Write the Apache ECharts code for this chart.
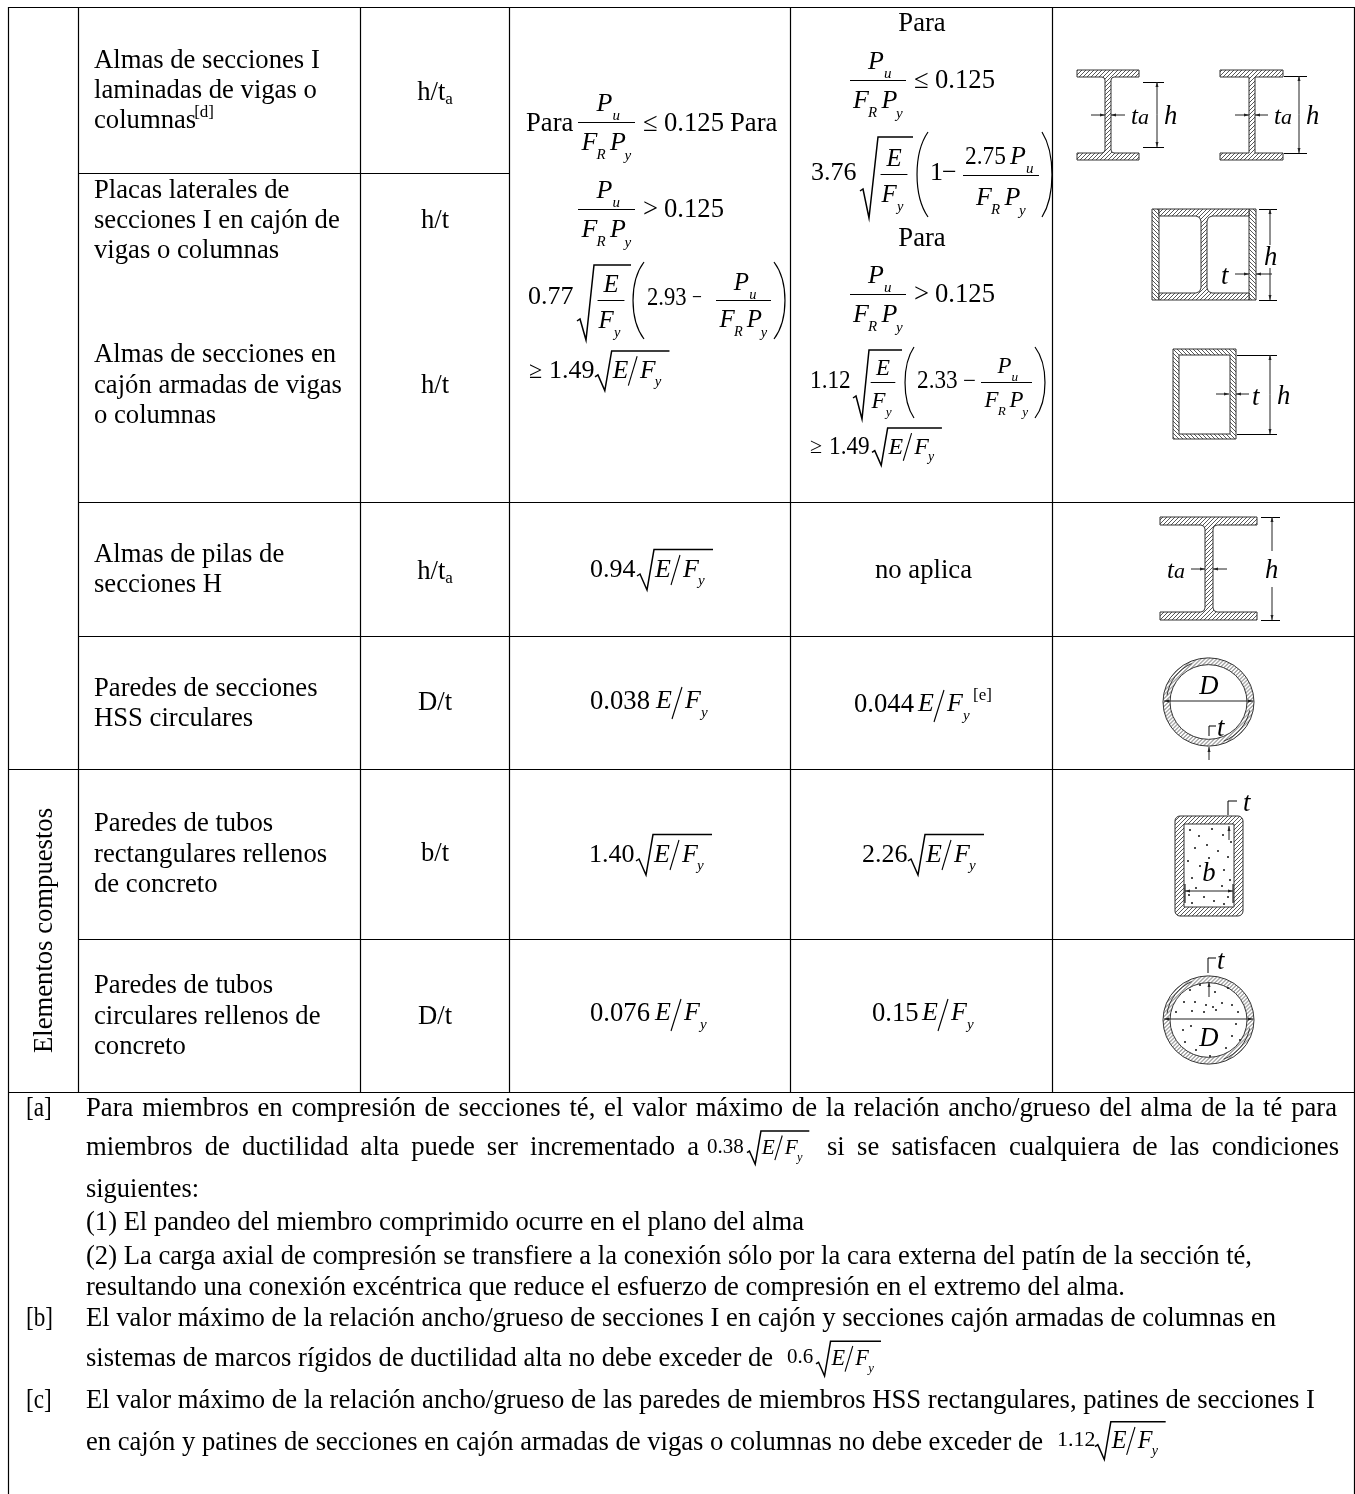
<!DOCTYPE html>
<html><head><meta charset="utf-8">
<style>html,body{margin:0;padding:0;background:#fff}#c{width:1355px;height:1494px}</style>
<script src="https://cdn.jsdelivr.net/npm/echarts@6/dist/echarts.min.js"></script>
</head><body><div id="c"></div>
<script>
// ---------- content ----------
const rowTitleLines = [
 ["Almas de secciones I","laminadas de vigas o","columnas"],
 ["Placas laterales de","secciones I en cajón de","vigas o columnas"],
 ["Almas de secciones en","cajón armadas de vigas","o columnas"],
 ["Almas de pilas de","secciones H"],
 ["Paredes de secciones","HSS circulares"],
 ["Paredes de tubos","rectangulares rellenos","de concreto"],
 ["Paredes de tubos","circulares rellenos de","concreto"]
];
const ratioLabels = [["h/t","a"],["h/t",""],["h/t",""],["h/t","a"],["D/t",""],["b/t",""],["D/t",""]];
const groupLabel = "Elementos compuestos";
const noteTags = ["[a]","[b]","[c]"];
const noteLines = [
 "Para miembros en compresión de secciones té, el valor máximo de la relación ancho/grueso del alma de la té para",
 "miembros de ductilidad alta puede ser incrementado a",
 "si se satisfacen cualquiera de las condiciones",
 "siguientes:",
 "(1) El pandeo del miembro comprimido ocurre en el plano del alma",
 "(2) La carga axial de compresión se transfiere a la conexión sólo por la cara externa del patín de la sección té,",
 "resultando una conexión excéntrica que reduce el esfuerzo de compresión en el extremo del alma.",
 "El valor máximo de la relación ancho/grueso de secciones I en cajón y secciones cajón armadas de columnas en",
 "sistemas de marcos rígidos de ductilidad alta no debe exceder de",
 "El valor máximo de la relación ancho/grueso de las paredes de miembros HSS rectangulares, patines de secciones I",
 "en cajón y patines de secciones en cajón armadas de vigas o columnas no debe exceder de"
];
const coefSqrt = ["0.94","1.40","2.26","0.38","0.6","1.12"];
const coefPlain = ["0.038","0.044","0.076","0.15"];
const limit125 = "0.125";

// ---------- layout ----------
const SERIF = '"Liberation Serif","Times New Roman",serif';
const BODY = 26.67, DY = 1.5;
const vLines = [[8,7,1494],[78,7,1092],[360,7,1092],[509,7,1092],[790,7,1092],[1052,7,1092],[1354,7,1494]];
const hLines = [[7,8,1354],[173,78,509],[502,78,1354],[636,78,1354],[769,8,1354],[939,78,1354],[1092,8,1354]];
const rowTitleYs = [[59,89,119],[189,219,249],[353,384,414],[553,583],[687,717],[822,853,883],[984,1015,1045]];
const ratioYs = [91,219,384,570,701,852,1015];
const noteSpec = [ // x1,x2,y,justify
 [86,1337,1107,1],[86,699,1146,1],[827,1339,1146,1],[86,199,1188,0],[86,804,1221,0],[86,1252,1255,0],
 [86,1125,1286,0],[86,1276,1317,0],[86,773,1357,0],[86,1315,1399,0],[86,1043,1441,0]];
const noteTagYs = [1107,1317,1399];
const rectDots = [[1190,830],[1199,836],[1212,829],[1223,835],[1231,842],[1195,848],[1207,845],[1218,851],[1228,857],[1188,861],[1200,866],[1192,878],[1224,870],[1230,880],[1189,895],[1196,888],[1222,886],[1228,897],[1204,897],[1214,901],[1192,903],[1224,904],[1209,858]];
const circDots = [[1190,990],[1200,985],[1215,992],[1228,988],[1184,1002],[1195,1002],[1206,1005],[1213,1007],[1222,1003],[1232,1005],[1176,1012],[1192,1011],[1204,1012],[1216,1010],[1238,1012],[1183,1030],[1191,1026],[1236,1024],[1232,1036],[1185,1042],[1240,1040],[1196,1050],[1226,1048],[1210,1056]];

// ---------- helpers ----------
const els = [];
const mctx = document.createElement('canvas').getContext('2d');
function measure(s,size,it){ mctx.font=(it?'italic ':'')+size+'px "Liberation Serif"'; return mctx.measureText(s).width; }
function T(s,x,y,o){ o=o||{};
  const el={type:'text',x:x,y:o.rot!==undefined?y:y+DY,silent:true,style:{text:s,fill:o.fill||'#000',font:(o.it?'italic ':'')+(o.size||BODY)+'px '+SERIF,
    textAlign:o.align||'left',textVerticalAlign:'middle',align:o.align||'left',verticalAlign:'middle'}};
  if(o.rot!==undefined) el.rotation=o.rot;
  if(o.sx) el.scaleX=o.sx;
  els.push(el);
}
function L(x1,y1,x2,y2,w,c){ els.push({type:'line',silent:true,shape:{x1,y1,x2,y2},style:{stroke:c||'#000',lineWidth:w||1,fill:null}}); }
function PL(pts,w,c){ els.push({type:'polyline',silent:true,shape:{points:pts},style:{stroke:c||'#000',lineWidth:w||1,fill:null}}); }
function fit(s,x1,x2,y,size){ T(s,x1,y,{size,sx:(x2-x1)/measure(s,size)}); }
function just(s,x1,x2,y,size){ const ws=s.split(' ');
  const wd=ws.map(w=>measure(w,size)); const tot=wd.reduce((a,b)=>a+b,0);
  const gap=(x2-x1-tot)/(ws.length-1); let x=x1;
  ws.forEach((w,i)=>{T(w,x,y,{size}); x+=wd[i]+gap;}); }
function paren(x1,x2,y1,y2,left){ const a=left?x2:x1,b=left?x1:x2,h=y2-y1;
  els.push({type:'bezierCurve',silent:true,shape:{x1:a,y1:y1,x2:a,y2:y2,cpx1:b-(a-b)*.33,cpy1:y1+h*.25,cpx2:b-(a-b)*.33,cpy2:y1+h*.75},style:{stroke:'#000',lineWidth:1.2,fill:null}}); }
function Pu(cx,y,k){ k=k||1; T('P',cx-8*k,y,{it:1,size:26*k}); T('u',cx+8*k,y+12*k,{it:1,size:15*k}); }
function FP(cx,y,k){ k=k||1;
  T('F',cx-25*k,y,{it:1,size:26*k}); T('R',cx-10*k,y+12*k,{it:1,size:15*k});
  T('P',cx+3.5*k,y,{it:1,size:26*k}); T('y',cx+18*k,y+13*k,{it:1,size:15*k}); }
function fracP(x1,x2,y,k){ k=k||1; L(x1,y+.5,x2,y+.5,1); const c=(x1+x2)/2; Pu(c-2,y-19*k,k); FP(c,y+20*k,k); }
function EoverF(cx,y,k){ k=k||1; T('E',cx,y-17*k,{it:1,size:26*k,align:'center'}); L(cx-14*k,y+.5,cx+14*k,y+.5,1);
  T('F',cx-13*k,y+21*k,{it:1,size:26*k}); T('y',cx+3*k,y+33*k,{it:1,size:15*k}); }
function bigSqrt(x0,xT,xEnd,yTick,yBot,yTop){ PL([[x0,yTick],[x0+3,yTick-2],[x0+9,yBot],[xT,yTop],[xEnd,yTop]],1.5); }
// x0 = root start, yc = text centre, k = scale
function rootEF(x0,yc,k){ k=k||1;
  PL([[x0,yc+7*k],[x0+3*k,yc+5*k],[x0+10*k,yc+21*k],[x0+17*k,yc-19.5*k],[x0+76*k,yc-19.5*k]],1.5);
  T('E',x0+18*k,yc,{it:1,size:26*k}); L(x0+34*k,yc+16*k,x0+43*k,yc-14*k,1.1);
  T('F',x0+46*k,yc,{it:1,size:26*k}); T('y',x0+61*k,yc+11*k,{it:1,size:15*k}); }
// plain E/Fy; x = left of E, yc = text centre
function EF(x,yc){ T('E',x,yc,{it:1,size:26}); L(x+16,yc+19,x+26,yc-13,1.1);
  T('F',x+29,yc,{it:1,size:26}); T('y',x+45,yc+12,{it:1,size:15}); }
function pattern(dir,step,col){ const c=document.createElement('canvas'); c.width=c.height=step; const g=c.getContext('2d');
  g.fillStyle='#fff'; g.fillRect(0,0,step,step); g.strokeStyle=col||'#444'; g.lineWidth=.9; g.beginPath();
  if(dir>0){ g.moveTo(-1,step+1); g.lineTo(step+1,-1);} else { g.moveTo(-1,-1); g.lineTo(step+1,step+1);} g.stroke();
  return {image:c,repeat:'repeat'}; }
const H1=pattern(1,4), H2=pattern(-1,4);
function HR(x,y,w,h,f,r){ els.push({type:'rect',silent:true,shape:{x,y,width:w,height:h,r:r||0},style:{fill:f||H1,stroke:'#333',lineWidth:1}}); }
function Iprof(fx1,fx2,wx1,wx2,y1,y2,tf,r){ const a=y1+tf,b=y2-tf; const s=r*.3;
  const p=[[fx1,y1],[fx2,y1],[fx2,a]];
  p.push([wx2+r,a],[wx2+s,a+s],[wx2,a+r],[wx2,b-r],[wx2+s,b-s],[wx2+r,b],[fx2,b],[fx2,y2],[fx1,y2],[fx1,b],[wx1-r,b],[wx1-s,b-s],[wx1,b-r],[wx1,a+r],[wx1-s,a+s],[wx1-r,a],[fx1,a]);
  els.push({type:'polygon',silent:true,shape:{points:p},style:{fill:H1,stroke:'#333',lineWidth:1}}); }
function arrow(x1,y1,x2,y2,c){ L(x1,y1,x2,y2,1,c||'#222'); const dx=Math.sign(x2-x1),dy=Math.sign(y2-y1);
  els.push({type:'polygon',silent:true,shape:{points:[[x2,y2],[x2-dx*5-dy*1.5,y2-dy*5-dx*1.5],[x2-dx*5+dy*1.5,y2-dy*5+dx*1.5]]},style:{fill:'#222'}}); }
function dimV(x,lx1,lx2,y1,y2){ L(lx1,y1+.5,lx2,y1+.5); L(lx1,y2+.5,lx2,y2+.5);
  arrow(x,(y1+y2)/2,x,y1);arrow(x,(y1+y2)/2,x,y2); }
function ell(cx,cy,r,sy,st){ els.push({type:'circle',silent:true,x:cx,y:cy,scaleY:sy,shape:{cx:0,cy:0,r},style:st}); }
function dot(x,y){ els.push({type:'circle',silent:true,shape:{cx:x,cy:y,r:1},style:{fill:'#111'}}); }
function arcS(cx,cy,r,a,b){ els.push({type:'arc',silent:true,shape:{cx,cy,r,startAngle:a,endAngle:b,clockwise:true},style:{stroke:'#333',lineWidth:1,fill:null}}); }
function pipe(cx,cy,filled){ ell(cx,cy,45.5,.97,{fill:H1,stroke:'#333',lineWidth:1}); ell(cx,cy,38.5,.97,{fill:'#fff',stroke:'#333',lineWidth:1});
  arcS(cx,cy,42,3.3,4.3); arcS(cx,cy,42,.2,1.2);
  if(filled) circDots.forEach(d=>dot(d[0],d[1])); }

// ---------- table ----------
vLines.forEach(v=>L(v[0]+.5,v[1],v[0]+.5,v[2],1.2));
hLines.forEach(h=>L(h[1],h[0]+.5,h[2]+1,h[0]+.5,1.2));
rowTitleLines.forEach((ls,i)=>ls.forEach((s,j)=>T(s,94,rowTitleYs[i][j],{})));
T('[d]',92+measure('columnas',BODY),111,{size:17});
ratioLabels.forEach((r,i)=>{ const w=measure(r[0],BODY)+(r[1]?measure(r[1],17):0); const x=435-w/2;
  T(r[0],x,ratioYs[i]); if(r[1]) T(r[1],x+measure(r[0],BODY),ratioYs[i]+7,{size:17}); });
T(groupLabel,45,930.5,{align:'center',rot:Math.PI/2});

// ---------- column 3 ----------
T('Para',526,122); fracP(578,635,122); T('≤',643,122); T(limit125,664,122); T('Para',730,122);
fracP(578,635,209); T('>',643,208); T(limit125,664,208);
T('0.77',528,296,{size:26}); bigSqrt(577,594,631,321,340,265); EoverF(611,300,.96);
paren(633,644,262,339,true); T('2.93',647,297,{size:26,sx:.87}); T('−',692,297,{size:22,sx:.8}); fracP(716,771,300,.96); paren(774,785,262,339,false);
T('≥',529,370,{size:24}); T('1.49',549,370,{size:26}); rootEF(595,370,.98);
// ---------- column 4 ----------
T('Para',922,22,{align:'center'}); fracP(850,906,80); T('≤',914,79); T(limit125,935,79);
T('3.76',811,172,{size:26}); bigSqrt(860,878,913,191,218,137); EoverF(894,174,.96);
paren(917,928,132,217,true); T('1',930,172,{size:26}); T('−',942,172,{size:26}); L(963,175.5,1039,175.5,1);
T('2.75',965,156,{size:26,sx:.9}); Pu(1018,156); FP(1001,197); paren(1042,1052,132,217,false);
T('Para',922,237,{align:'center'}); fracP(850,906,294); T('>',914,293); T(limit125,935,293);
T('1.12',810,380,{size:25,sx:.93}); bigSqrt(853,869,902,398,419,350); EoverF(883,382,.88);
paren(905,914,347,418,true); T('2.33',917,380,{size:25,sx:.93}); T('−',963,380,{size:23}); fracP(981,1032,382,.88); paren(1035,1045,347,418,false);
T('≥',810,446,{size:22}); T('1.49',829,446,{size:25,sx:.93}); rootEF(872,446,.92);
// ---------- lower rows ----------
T(coefSqrt[0],590,569,{size:26}); rootEF(637,569,1); T('no aplica',923.5,569,{align:'center'});
T(coefPlain[0],590,700); EF(656,700); T(coefPlain[1],854,703); EF(918,703); T('[e]',973,694,{size:17});
T(coefSqrt[1],589,854,{size:26}); rootEF(636,854,1); T(coefSqrt[2],862,854,{size:26}); rootEF(908,854,1);
T(coefPlain[2],590,1012); EF(655,1012); T(coefPlain[3],872,1012); EF(922,1012);
// ---------- notes ----------
noteTags.forEach((s,i)=>T(s,26,noteTagYs[i],{size:BODY,sx:.87}));
noteLines.forEach((s,i)=>{ const n=noteSpec[i]; if(n[3]) just(s,n[0],n[1],n[2],BODY); else fit(s,n[0],n[1],n[2],BODY); });
T(coefSqrt[3],707,1146,{size:21}); rootEF(747,1147,.82);
T(coefSqrt[4],787,1356,{size:21}); rootEF(816,1358,.855);
T(coefSqrt[5],1057,1439,{size:22}); rootEF(1095,1440,.93);

// ---------- drawings ----------
Iprof(1077,1139,1105,1111,70,160,7,3);
dimV(1157,1143,1164,82,147); arrow(1091,115,1105,115); arrow(1125,115,1111,115);
T('t',1131,116,{it:1,size:25}); T('a',1138,117,{it:1,size:22}); T('h',1164,115,{it:1});
Iprof(1220,1283,1249,1255,70,160,7,0);
dimV(1299,1284,1307,76,153); arrow(1235,115,1249,115); arrow(1268,115,1255,115);
T('t',1274,116,{it:1,size:25}); T('a',1281,117,{it:1,size:22}); T('h',1306,115,{it:1});
HR(1152,209,7,91,H2); HR(1249,209,7,91,H2); Iprof(1159,1249,1201,1207,209,300,7,5);
L(1259,209.5,1277,209.5); L(1259,300.5,1277,300.5); arrow(1270,245,1270,209); arrow(1270,268,1270,300);
T('h',1264,256,{it:1}); T('t',1221,275,{it:1}); arrow(1235,274,1249,274); arrow(1272,274,1256,274);
HR(1173,349,63,90,H2); HR(1179,355,51,79,'#fff');
dimV(1270,1237,1277,355,434); arrow(1216,394,1229,394); arrow(1249,394,1236,394);
T('t',1252,396,{it:1}); T('h',1277,395,{it:1});
// H section
Iprof(1160,1257,1205,1213,517,620,8,4);
L(1261,517.5,1280,517.5); L(1261,620.5,1280,620.5); arrow(1272,551,1272,517); arrow(1272,587,1272,620);
T('h',1265,569,{it:1}); T('t',1167,570,{it:1,size:25}); T('a',1174,571,{it:1,size:22});
arrow(1191,569,1205,569); arrow(1227,569,1213,569);
// HSS circular
pipe(1208.5,702,false); T('D',1209,685,{it:1,align:'center'});
arrow(1185,701,1164,701); arrow(1185,701,1253,701);
PL([[1209,736],[1209,726],[1216,726]],1); T('t',1217,727,{it:1}); arrow(1209,760,1209,747);
// rect filled
HR(1175,816,68,100,H1,5); HR(1184,824,50,83,'#fff');
rectDots.forEach(d=>dot(d[0],d[1]));
T('b',1209,872,{it:1,align:'center'}); L(1185,884,1185,903); L(1233,884,1233,903);
arrow(1209,891,1185,891); arrow(1209,891,1233,891);
PL([[1228,815],[1228,801],[1237,801]],1); T('t',1243,802,{it:1}); arrow(1229,840,1229,826);
// circular filled
pipe(1208.5,1020,true); T('D',1209,1037,{it:1,align:'center'});
arrow(1185,1019,1164,1019); arrow(1185,1019,1253,1019);
PL([[1208,973],[1208,958],[1216,958]],1); T('t',1217,960,{it:1}); arrow(1209,997,1209,982);

const chart=echarts.init(document.getElementById('c'),null,{renderer:'canvas',width:1355,height:1494});
chart.setOption({animation:false,backgroundColor:'#fff',graphic:{elements:els}});
</script></body></html>
